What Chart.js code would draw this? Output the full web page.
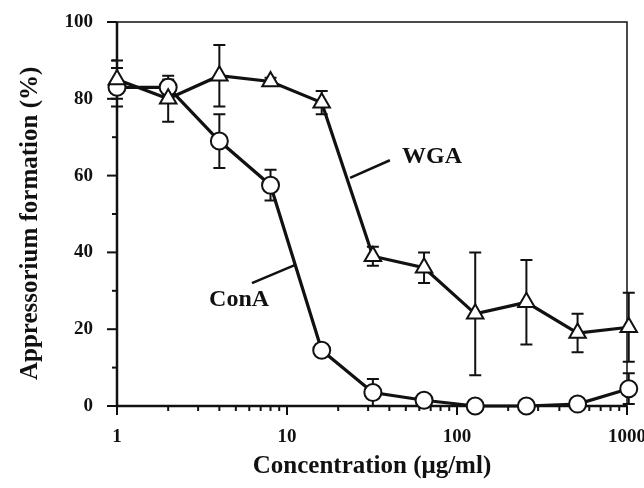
<!DOCTYPE html>
<html>
<head>
<meta charset="utf-8">
<title>Appressorium formation</title>
<script src="https://cdn.jsdelivr.net/npm/chart.js"></script>
<style>
    html, body { margin: 0; padding: 0; background: #fff; }
    #wrap { position: relative; width: 644px; height: 488px; }
</style>
</head>
<body>
<div id="wrap"><canvas id="chart"></canvas></div>
<script>
    // concentration (µg/ml), doubling series
    var conc = [1, 2, 4, 8, 16, 32, 64, 128, 256, 512, 1024];

    // WGA: mean and error (%)
    var wgaMean = [85, 80, 86, 84.5, 79, 39, 36, 24, 27, 19, 20.5];
    var wgaErr  = [5, 6, 8, 1, 3, 2.5, 4, 16, 11, 5, 9];

    // ConA: mean and error (%)
    var conaMean = [83, 83, 69, 57.5, 14.5, 3.5, 1.5, 0, 0, 0.5, 4.5];
    var conaErr  = [5, 2, 7, 4, 1.5, 3.5, 1, 0, 0, 0.5, 4];

    // tick labels
    var yTicks = [0, 20, 40, 60, 80, 100];
    var xTicks = [1, 10, 100, 1000];

    // series labels with leader lines (data coordinates)
    var notes = [
        { text: 'WGA',  x: 47.5, y: 64.8, from: [23.5, 59.4], to: [40.3, 64] },
        { text: 'ConA', x: 3.48, y: 27.6, from: [6.22, 32],   to: [11.1, 36.7] }
    ];

    var serif = "'Liberation Serif', 'Times New Roman', serif";

    function points(means) {
        return conc.map(function (c, i) { return { x: c, y: means[i] }; });
    }

    // frame, tick marks and error bars, drawn under the lines
    var framePlugin = {
        id: 'framePlugin',
        beforeDatasetsDraw: function (chart) {
            var ctx = chart.ctx, a = chart.chartArea;
            var xs = chart.scales.x, ys = chart.scales.y;
            ctx.save();
            ctx.strokeStyle = '#111';
            ctx.lineCap = 'butt';

            ctx.lineWidth = 1.5;
            ctx.beginPath();
            ctx.moveTo(a.left, a.top);
            ctx.lineTo(a.right, a.top);
            ctx.lineTo(a.right, a.bottom);
            ctx.stroke();

            ctx.lineWidth = 2.5;
            ctx.beginPath();
            ctx.moveTo(a.left, a.top);
            ctx.lineTo(a.left, a.bottom);
            ctx.lineTo(a.right, a.bottom);
            ctx.stroke();

            // y ticks, outside
            ctx.lineWidth = 2;
            for (var v = 0; v <= 100; v += 10) {
                var py = ys.getPixelForValue(v);
                var len = v % 20 === 0 ? 10 : 5;
                ctx.beginPath();
                ctx.moveTo(a.left - len, py);
                ctx.lineTo(a.left, py);
                ctx.stroke();
            }

            // x ticks, log minors
            for (var d = 1; d <= 1000; d *= 10) {
                for (var k = 1; k < 10; k++) {
                    var val = d * k;
                    if (val > 1000) break;
                    var px = xs.getPixelForValue(val);
                    var l = k === 1 ? 9 : 5;
                    ctx.beginPath();
                    ctx.moveTo(px, a.bottom);
                    ctx.lineTo(px, a.bottom + l);
                    ctx.stroke();
                }
            }

            // error bars
            var sets = [[wgaMean, wgaErr], [conaMean, conaErr]];
            ctx.lineWidth = 2;
            sets.forEach(function (s) {
                conc.forEach(function (c, i) {
                    if (!s[1][i]) return;
                    var x = xs.getPixelForValue(c);
                    var y1 = ys.getPixelForValue(s[0][i] + s[1][i]);
                    var y2 = ys.getPixelForValue(Math.max(0, s[0][i] - s[1][i]));
                    ctx.beginPath();
                    ctx.moveTo(x, y1); ctx.lineTo(x, y2);
                    ctx.moveTo(x - 6, y1); ctx.lineTo(x + 6, y1);
                    ctx.moveTo(x - 6, y2); ctx.lineTo(x + 6, y2);
                    ctx.stroke();
                });
            });
            ctx.restore();
        },
        afterDatasetsDraw: function (chart) {
            var ctx = chart.ctx;
            var xs = chart.scales.x, ys = chart.scales.y;
            ctx.save();
            ctx.strokeStyle = '#111';
            ctx.fillStyle = '#111';
            ctx.lineWidth = 2.5;
            ctx.font = 'bold 24px ' + serif;
            ctx.textBaseline = 'middle';
            ctx.textAlign = 'left';
            notes.forEach(function (n) {
                ctx.beginPath();
                ctx.moveTo(xs.getPixelForValue(n.from[0]), ys.getPixelForValue(n.from[1]));
                ctx.lineTo(xs.getPixelForValue(n.to[0]), ys.getPixelForValue(n.to[1]));
                ctx.stroke();
                ctx.fillText(n.text, xs.getPixelForValue(n.x), ys.getPixelForValue(n.y));
            });
            ctx.restore();
        }
    };

    var ctx = document.getElementById('chart').getContext('2d');
    var chart = new Chart(ctx, {
        type: 'scatter',
        data: {
            datasets: [
                {
                    label: 'WGA',
                    data: points(wgaMean),
                    showLine: true,
                    borderColor: '#111',
                    borderWidth: 3.2,
                    pointStyle: 'triangle',
                    pointRadius: 9.5,
                    pointBackgroundColor: '#fff',
                    pointBorderColor: '#111',
                    pointBorderWidth: 2,
                    clip: false
                },
                {
                    label: 'ConA',
                    data: points(conaMean),
                    showLine: true,
                    borderColor: '#111',
                    borderWidth: 3.2,
                    pointStyle: 'circle',
                    pointRadius: 8.5,
                    pointBackgroundColor: '#fff',
                    pointBorderColor: '#111',
                    pointBorderWidth: 2,
                    clip: false
                }
            ]
        },
        options: {
            responsive: true,
            maintainAspectRatio: false,
            animation: false,
            layout: { padding: { left: 0, top: 22, right: 17, bottom: 0 } },
            plugins: {
                legend: { display: false },
                tooltip: { enabled: false }
            },
            scales: {
                x: {
                    type: 'logarithmic',
                    min: 1,
                    max: 1000,
                    grid: { display: false, drawTicks: false },
                    border: { display: false },
                    afterBuildTicks: function (s) {
                        s.ticks = xTicks.map(function (v) { return { value: v }; });
                    },
                    afterFit: function (s) {
                        s.height = 82;
                        s.paddingLeft = 0;
                        s.paddingRight = 0;
                    },
                    ticks: {
                        color: '#111',
                        padding: 20,
                        maxRotation: 0,
                        font: { family: serif, size: 19, weight: 'bold' },
                        callback: function (v) { return String(v); }
                    },
                    title: {
                        display: true,
                        text: 'Concentration (\u03bcg/ml)',
                        color: '#111',
                        padding: { top: 0, bottom: 6 },
                        font: { family: serif, size: 25, weight: 'bold' }
                    }
                },
                y: {
                    min: 0,
                    max: 100,
                    grid: { display: false, drawTicks: false },
                    border: { display: false },
                    afterBuildTicks: function (s) {
                        s.ticks = yTicks.map(function (v) { return { value: v }; });
                    },
                    afterFit: function (s) {
                        s.width = 117;
                        s.paddingTop = 0;
                        s.paddingBottom = 0;
                    },
                    ticks: {
                        color: '#111',
                        padding: 24,
                        font: { family: serif, size: 19, weight: 'bold' }
                    },
                    title: {
                        display: true,
                        // trailing spaces nudge the title a little lower, as in the original
                        text: 'Appressorium formation (%)\u00a0\u00a0\u00a0',
                        color: '#111',
                        padding: { top: 16, bottom: 0 },
                        font: { family: serif, size: 25, weight: 'bold' }
                    }
                }
            }
        },
        plugins: [framePlugin]
    });
</script>
</body>
</html>
